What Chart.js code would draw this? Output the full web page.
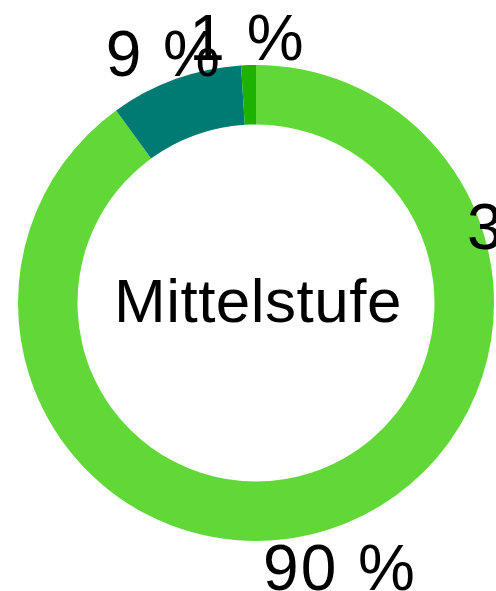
<!DOCTYPE html>
<html>
<head>
<meta charset="utf-8">
<script src="https://cdn.jsdelivr.net/npm/chart.js@4"></script>
<style>
  html, body { margin: 0; padding: 0; background: #ffffff; overflow: hidden; }
  #wrap { width: 496px; height: 591px; position: relative; }
</style>
</head>
<body>
<div id="wrap"><canvas id="c" width="496" height="591"></canvas></div>
<script>
// Data
const categories = ['A', 'B', 'C'];
const values = [90, 9, 1];
const valueLabels = ['90 %', '9 %', '1 %'];
const colors = ['#62d838', '#007b73', '#1db100'];
const centerTitle = 'Mittelstufe';
// a clipped label belonging to a neighbouring chart
const strayLabel = '3 %';

const FONT = '"Liberation Sans", Helvetica, Arial, sans-serif';

const labelPlugin = {
  id: 'labels',
  afterDatasetsDraw(chart) {
    const ctx = chart.ctx;
    const meta = chart.getDatasetMeta(0);
    ctx.save();
    ctx.fillStyle = '#000';
    ctx.textAlign = 'center';
    ctx.textBaseline = 'middle';
    ctx.font = '64px ' + FONT;
    try { ctx.letterSpacing = '2px'; } catch (e) {}
    let cx = 0, cy = 0, R = 0;
    meta.data.forEach((arc, i) => {
      const p = arc.getProps(['x', 'y', 'startAngle', 'endAngle', 'outerRadius'], true);
      cx = p.x; cy = p.y; R = p.outerRadius;
      const mid = (p.startAngle + p.endAngle) / 2;
      const r = p.outerRadius + 34;
      ctx.fillText(valueLabels[i], p.x + Math.cos(mid) * r, p.y + Math.sin(mid) * r + 11);
    });
    // stray neighbour label
    const a = (74 - 90) * Math.PI / 180;
    const rr = R + 42;
    ctx.fillText(strayLabel, cx + Math.cos(a) * rr, cy + Math.sin(a) * rr + 6);
    // centre title
    ctx.font = '62px ' + FONT;
    try { ctx.letterSpacing = '0.5px'; } catch (e) {}
    ctx.fillText(centerTitle, cx + 2, cy + 2);
    ctx.restore();
  }
};

new Chart(document.getElementById('c'), {
  type: 'doughnut',
  data: {
    labels: categories,
    datasets: [{
      data: values,
      backgroundColor: colors,
      borderWidth: 0,
      hoverOffset: 0
    }]
  },
  options: {
    responsive: false,
    animation: false,
    cutout: '75%',
    layout: { padding: { left: 18, right: 2, top: 65, bottom: 50 } },
    plugins: {
      legend: { display: false },
      tooltip: { enabled: false }
    },
    events: []
  },
  plugins: [labelPlugin]
});
</script>
</body>
</html>
